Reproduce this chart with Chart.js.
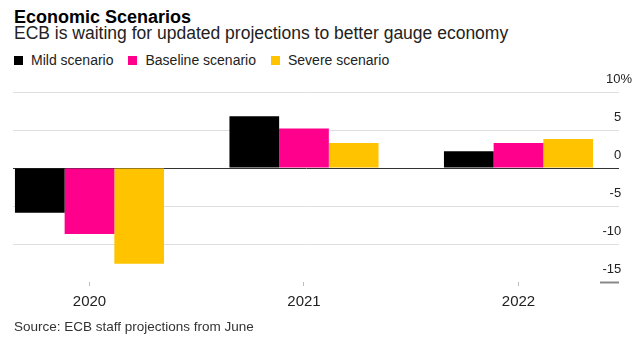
<!DOCTYPE html>
<html>
<head>
<meta charset="utf-8">
<script src="https://cdn.jsdelivr.net/npm/chart.js@4/dist/chart.umd.min.js"></script>
<style>
  html, body { margin: 0; padding: 0; background: #fff; }
  body { width: 644px; height: 341px; position: relative; overflow: hidden;
         font-family: "Liberation Sans", Arial, sans-serif; }
  .t { position: absolute; left: 14px; white-space: nowrap; }
  #title { top: 7.5px; font-size: 18px; line-height: 18px; font-weight: bold; color: #000; }
  #subtitle { top: 24.5px; font-size: 17.5px; line-height: 17.5px; color: #222; }
  #legend { top: 52.5px; font-size: 14px; line-height: 14px; color: #222; display: flex; }
  #legend .item { display: flex; align-items: center; margin-right: 15px; }
  #legend .sw { width: 9px; height: 9px; margin-right: 8px; margin-top: 2px; }
  #source { top: 319.5px; font-size: 13.5px; line-height: 13.5px; color: #333; }
  #wrap { position: absolute; left: 0; top: 0; width: 644px; height: 341px; }
</style>
</head>
<body>
<div id="title" class="t">Economic Scenarios</div>
<div id="subtitle" class="t">ECB is waiting for updated projections to better gauge economy</div>
<div id="legend" class="t"></div>
<div id="wrap"><canvas id="chart" width="644" height="341"></canvas></div>
<div id="source" class="t">Source: ECB staff projections from June</div>
<script>
// GDP growth projections, % per year
const years = ['2020', '2021', '2022'];
const seriesNames = ['Mild scenario', 'Baseline scenario', 'Severe scenario'];
const mild = [-5.9, 6.8, 2.2];
const baseline = [-8.7, 5.2, 3.3];
const severe = [-12.6, 3.3, 3.8];
const yTicks = [10, 5, 0, -5, -10, -15];

const colors = ['#000000', '#ff008c', '#ffc300'];
const seriesValues = [mild, baseline, severe];

// HTML legend built from the series
const legend = document.getElementById('legend');
seriesNames.forEach((name, i) => {
  const item = document.createElement('div');
  item.className = 'item';
  const sw = document.createElement('span');
  sw.className = 'sw';
  sw.style.background = colors[i];
  const label = document.createElement('span');
  label.textContent = name;
  item.appendChild(sw);
  item.appendChild(label);
  legend.appendChild(item);
});

const datasets = seriesValues.map((vals, i) => ({
  label: seriesNames[i],
  data: vals.map((v, j) => ({ x: j, y: v })),
  backgroundColor: colors[i],
  borderWidth: 0,
  categoryPercentage: 0.695,
  barPercentage: 1.0
}));

const FONT = '"Liberation Sans", Arial, sans-serif';

new Chart(document.getElementById('chart'), {
  type: 'bar',
  data: { datasets },
  options: {
    responsive: false,
    animation: false,
    devicePixelRatio: 1,
    layout: { padding: { left: 13, top: 92, right: 0, bottom: 0 } },
    plugins: { legend: { display: false }, tooltip: { enabled: false } },
    scales: {
      x: {
        type: 'linear',
        offset: false,
        min: -0.3566,
        max: 2.38,
        afterBuildTicks: (scale) => { scale.ticks = years.map((_, i) => ({ value: i })); },
        afterFit: (scale) => { scale.height = 59; },
        border: { display: false },
        grid: { offset: false, drawOnChartArea: false, drawTicks: true, tickLength: 4, color: '#bdbdbd', tickColor: '#bdbdbd' },
        ticks: {
          padding: 7,
          color: '#222',
          font: { family: FONT, size: 15 },
          callback: (v) => years[v] ?? ''
        }
      },
      y: {
        position: 'right',
        min: -15,
        max: 10,
        afterBuildTicks: (scale) => { scale.ticks = yTicks.map(v => ({ value: v })); },
        afterFit: (scale) => { scale.width = 44; },
        border: { display: false },
        grid: {
          drawTicks: true,
          tickLength: 19,
          color: (ctx) => ctx.tick.value === 0 ? '#333' : (ctx.tick.value === -15 ? 'rgba(0,0,0,0)' : '#dedede'),
          tickColor: (ctx) => ctx.tick.value === 0 ? '#333' : (ctx.tick.value === -15 ? '#888' : '#dedede'),
          tickWidth: (ctx) => ctx.tick.value === -15 ? 2 : 1
        },
        ticks: {
          mirror: true,
          padding: 32,
          labelOffset: -13,
          color: '#222',
          font: { family: FONT, size: 13 },
          // the % sign hangs past the right edge of the numbers
          callback: (v) => v === 10 ? '10%' : String(v) + '   '
        }
      }
    }
  }
});
</script>
</body>
</html>
